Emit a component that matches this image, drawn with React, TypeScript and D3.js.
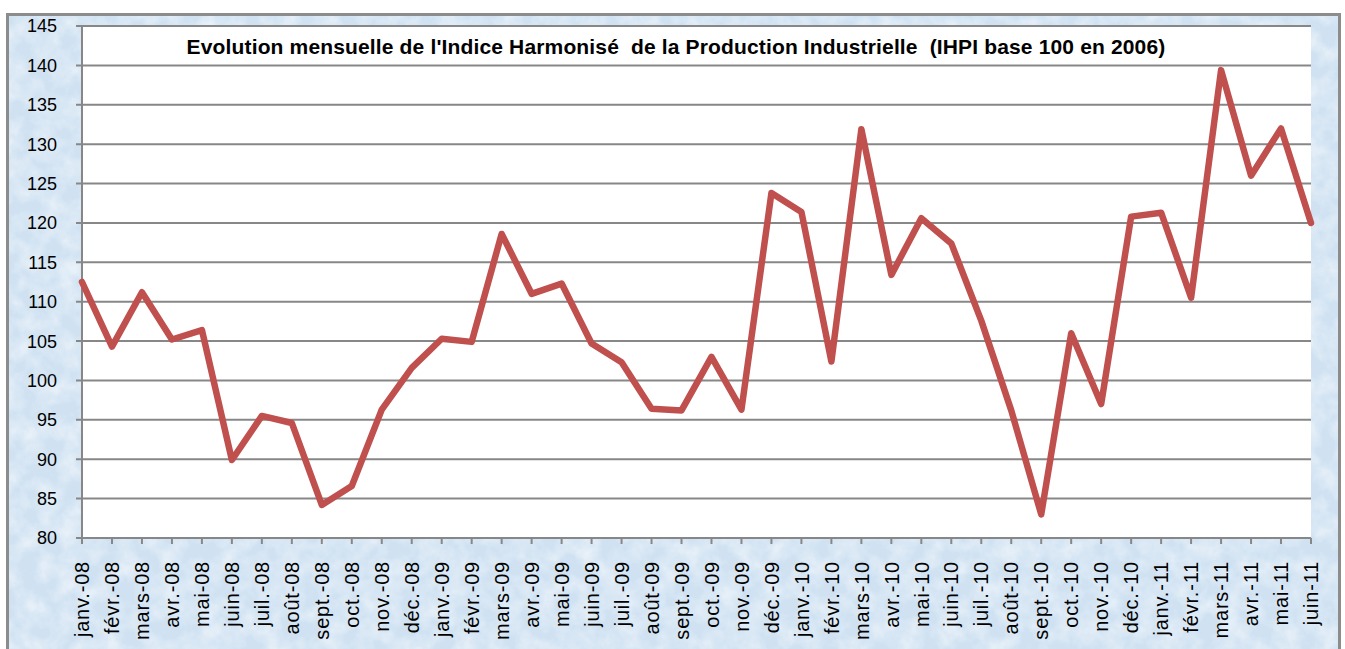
import React from 'react';
import * as d3 from 'd3';

// mois de janv.-08 à juin-11
const months = [
  'janv.-08', 'févr.-08', 'mars-08', 'avr.-08', 'mai-08', 'juin-08', 'juil.-08', 'août-08',
  'sept.-08', 'oct.-08', 'nov.-08', 'déc.-08',
  'janv.-09', 'févr.-09', 'mars-09', 'avr.-09', 'mai-09', 'juin-09', 'juil.-09', 'août-09',
  'sept.-09', 'oct.-09', 'nov.-09', 'déc.-09',
  'janv.-10', 'févr.-10', 'mars-10', 'avr.-10', 'mai-10', 'juin-10', 'juil.-10', 'août-10',
  'sept.-10', 'oct.-10', 'nov.-10', 'déc.-10',
  'janv.-11', 'févr.-11', 'mars-11', 'avr.-11', 'mai-11', 'juin-11'
];

// IHPI base 100 en 2006
const ihpi = [
  112.5, 104.3, 111.2, 105.2, 106.4, 89.9, 95.5, 94.6, 84.2, 86.6, 96.3, 101.6,
  105.3, 104.9, 118.6, 111.0, 112.3, 104.7, 102.3, 96.4, 96.2, 103.0, 96.3, 123.8,
  121.4, 102.4, 131.9, 113.4, 120.6, 117.4, 107.6, 96.2, 83.0, 106.0, 97.0, 120.8,
  121.3, 110.5, 139.4, 126.0, 132.0, 120.0
];

const yTicks = [80, 85, 90, 95, 100, 105, 110, 115, 120, 125, 130, 135, 140, 145];

const title =
  "Evolution mensuelle de l'Indice Harmonisé  de la Production Industrielle  (IHPI base 100 en 2006)";

const W = 1345;
const H = 649;
const plot = { left: 82, right: 1311, top: 26, bottom: 538 };
const FONT = 'Arial, "Liberation Sans", sans-serif';
const gridColor = '#878787';

export default function App() {
  const x = d3.scalePoint<string>().domain(months).range([plot.left, plot.right]).padding(0);
  const y = d3.scaleLinear().domain([80, 145]).range([plot.bottom, plot.top]);

  const line = d3
    .line<number>()
    .x((_, i) => x(months[i]) as number)
    .y(d => y(d));

  return (
    <svg
      width={W}
      height={H}
      style={{ position: 'absolute', left: 0, top: 0, display: 'block' }}
    >
      <defs>
        <filter id="paper" x="0" y="0" width="100%" height="100%">
          <feTurbulence type="fractalNoise" baseFrequency="0.05" numOctaves="4" seed="7" />
          <feColorMatrix
            type="matrix"
            values="0 0 0 0 1  0 0 0 0 1  0 0 0 0 1  1.3 0 0 0 -0.45"
          />
        </filter>
      </defs>

      <rect x={0} y={0} width={W} height={H} fill="#ffffff" />

      {/* cadre texturé */}
      <rect x={7.5} y={14.5} width={1332} height={660} fill="#d0e2f2" />
      <rect x={7.5} y={14.5} width={1332} height={660} filter="url(#paper)" opacity={0.75} />
      <rect
        x={7.5}
        y={14.5}
        width={1332}
        height={660}
        fill="none"
        stroke="#8c8c8c"
        strokeWidth={3}
      />

      {/* zone de tracé */}
      <rect
        x={plot.left}
        y={plot.top}
        width={plot.right - plot.left}
        height={plot.bottom - plot.top}
        fill="#ffffff"
      />

      {/* grille + axe Y */}
      <g>
        {yTicks.map(t => (
          <g key={t}>
            <line
              x1={plot.left - 6}
              x2={plot.right}
              y1={y(t)}
              y2={y(t)}
              stroke={gridColor}
              strokeWidth={2}
            />
            <text
              x={57}
              y={y(t)}
              dy="0.36em"
              textAnchor="end"
              fontFamily={FONT}
              fontSize={18}
              fill="#000"
            >
              {t}
            </text>
          </g>
        ))}
        <line
          x1={plot.left}
          x2={plot.left}
          y1={plot.top}
          y2={plot.bottom}
          stroke={gridColor}
          strokeWidth={2}
        />
      </g>

      {/* axe X */}
      <g>
        {months.map(m => {
          const px = x(m) as number;
          return (
            <g key={m}>
              <line
                x1={px}
                x2={px}
                y1={plot.bottom}
                y2={plot.bottom + 6}
                stroke={gridColor}
                strokeWidth={2}
              />
              <text
                transform={`translate(${px},561) rotate(-90)`}
                dy="0.36em"
                textAnchor="end"
                fontFamily={FONT}
                fontSize={20}
                letterSpacing={0.8}
                fill="#000"
              >
                {m}
              </text>
            </g>
          );
        })}
      </g>

      {/* courbe */}
      <path
        d={line(ihpi) || ''}
        fill="none"
        stroke="#C0504D"
        strokeWidth={6.5}
        strokeLinejoin="round"
        strokeLinecap="round"
      />

      {/* titre */}
      <text
        x={676}
        y={54}
        textAnchor="middle"
        fontFamily={FONT}
        fontSize={21}
        letterSpacing={0.15}
        fontWeight="bold"
        fill="#000"
        style={{ whiteSpace: 'pre' }}
      >
        {title}
      </text>
    </svg>
  );
}
